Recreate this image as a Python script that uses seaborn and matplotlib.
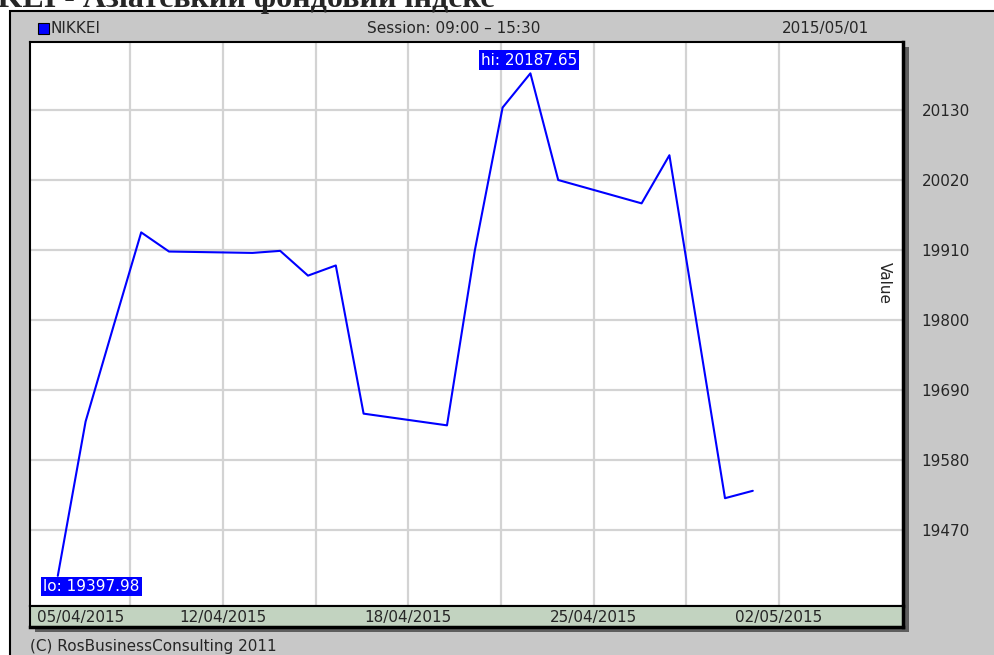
import pandas as pd
import seaborn as sns
import matplotlib.pyplot as plt
import matplotlib.transforms as mtransforms
from matplotlib.patches import Rectangle

# Дані: NIKKEI, закриття по днях (квітень - травень 2015)
dates = ["2015-04-06", "2015-04-07", "2015-04-08", "2015-04-09", "2015-04-10",
         "2015-04-13", "2015-04-14", "2015-04-15", "2015-04-16", "2015-04-17",
         "2015-04-20", "2015-04-21", "2015-04-22", "2015-04-23", "2015-04-24",
         "2015-04-27", "2015-04-28", "2015-04-30", "2015-05-01"]
closes = [19397.98, 19640.54, 19789.81, 19937.72, 19907.63,
          19905.46, 19908.68, 19869.76, 19885.77, 19652.88,
          19634.49, 19909.09, 20133.90, 20187.65, 20020.04,
          19983.32, 20058.95, 19520.01, 19531.63]

# сітка і підписи осей (дні від 05/04/2015)
grid_days = [3.6, 6.93, 10.27, 13.6, 16.93, 20.27, 23.6, 26.93]
tick_days = [0.25, 6.93, 13.6, 20.27, 26.93]
tick_labels = ["05/04/2015", "12/04/2015", "18/04/2015", "25/04/2015", "02/05/2015"]
y_ticks = [19470, 19580, 19690, 19800, 19910, 20020, 20130]

W, H = 995, 655


def fx(px):
    return px / W


def fy(py):
    return 1 - py / H


sns.set_style("white")
plt.rcParams['font.family'] = ['DejaVu Sans']

df = pd.DataFrame({"date": pd.to_datetime(dates), "close": closes})
df["day"] = (df["date"] - pd.Timestamp("2015-04-05")).dt.days

fig = plt.figure(figsize=(9.95, 6.55), dpi=100)
fig.patch.set_facecolor("white")

# сіра панель
fig.add_artist(Rectangle((fx(10), -0.05), 1.0, fy(11) + 0.05, transform=fig.transFigure,
                         facecolor="#c8c8c8", edgecolor="black", lw=1.5, zorder=0))
# тінь рамки
fig.add_artist(Rectangle((fx(35), fy(632)), (909 - 35) / W, (632 - 47) / H,
                         transform=fig.transFigure, facecolor="#5e5e5e", edgecolor="none", zorder=1))

# обрізаний заголовок
fig.text(fx(495), fy(7), "NIKKEI - Азіатський фондовий індекс", ha="right", va="baseline",
         fontsize=23, fontweight="bold", family="Liberation Serif")

# шапка
fig.add_artist(Rectangle((fx(38), fy(34)), 11 / W, 11 / H, transform=fig.transFigure,
                         facecolor="#0000ff", edgecolor="black", lw=0.8, zorder=3))
fig.text(fx(50), fy(28.5), "NIKKEI", va="center", fontsize=11)
fig.text(fx(454), fy(28.5), "Session: 09:00 \u2013 15:30", ha="center", va="center", fontsize=11)
fig.text(fx(826), fy(28.5), "2015/05/01", ha="center", va="center", fontsize=11)

# основний графік
ax = fig.add_axes([fx(30), fy(606), 873 / W, 564 / H])
ax.set_zorder(2)
ax.set_facecolor("white")
sns.lineplot(data=df, x="day", y="close", ax=ax, color="#0000ff", lw=1.5)
ax.set_xlim(0, 873 / 27.8)
ax.set_ylim(19350.6, 20236.9)
ax.set_xticks(grid_days)
ax.set_xticklabels([])
ax.set_yticks(y_ticks)
ax.yaxis.tick_right()
ax.tick_params(axis="x", length=0)
ax.tick_params(axis="y", length=0, pad=48, labelsize=11)
for lbl in ax.get_yticklabels():
    lbl.set_ha("right")
ax.grid(True, color="#d3d3d3", lw=1.6)
ax.set_xlabel("")
ax.set_ylabel("")
for s in ax.spines.values():
    s.set_color("black")
    s.set_linewidth(1.5)
ax.spines["right"].set_linewidth(2.5)
ax.text(0.979, 0.573, "Value", rotation=270, transform=ax.transAxes,
        ha="center", va="center", fontsize=11)

# hi / lo
hi = df.loc[df["close"].idxmax()]
lo = df.loc[df["close"].idxmin()]
box = dict(boxstyle="square,pad=0.15", fc="#0000ff", ec="none")
ax.annotate(f"hi: {hi['close']:.2f}", xy=(hi["day"], hi["close"]), xytext=(-1, 9.5),
            textcoords="offset points", ha="center", va="center", color="white",
            fontsize=11, bbox=box)
ax.annotate(f"lo: {lo['close']:.2f}", xy=(lo["day"], lo["close"]), xytext=(-10.5, -7.6),
            textcoords="offset points", ha="left", va="center", color="white",
            fontsize=11, bbox=box)

# смуга з датами
ax2 = fig.add_axes([fx(30), fy(627), 873 / W, 21 / H], sharex=ax)
ax2.set_zorder(2)
ax2.set_facecolor("#c2d3c0")
ax2.set_yticks([])
ax2.tick_params(axis="x", length=0, labelbottom=False)
for s in ax2.spines.values():
    s.set_color("black")
    s.set_linewidth(1.5)
ax2.spines["right"].set_linewidth(2.5)
ax2.spines["bottom"].set_linewidth(2.5)
trans = mtransforms.blended_transform_factory(ax2.transData, ax2.transAxes)
for d, t in zip(tick_days, tick_labels):
    ax2.text(d, 0.45, t, transform=trans, ha="left" if d < 1 else "center",
             va="center", fontsize=11)

fig.text(fx(30), fy(647), "(C) RosBusinessConsulting 2011", va="center", fontsize=11)

fig.savefig("out.png", dpi=100)
